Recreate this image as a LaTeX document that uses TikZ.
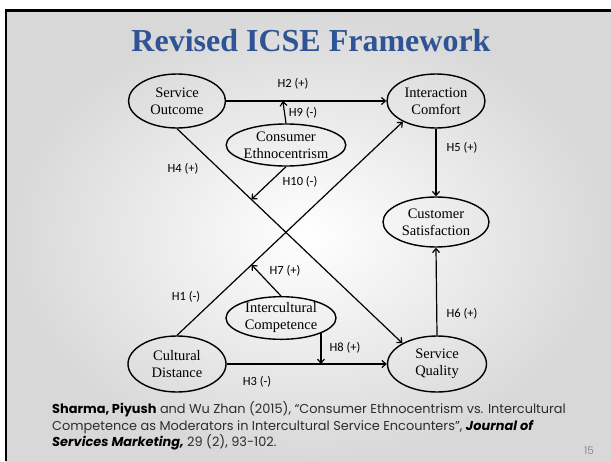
\documentclass[tikz,border=0pt]{standalone}
\usepackage{fontspec}
\setmainfont{Liberation Serif}
\newfontfamily\labelfont{Carlito}
\newfontfamily\notefont{Poppins}
\usetikzlibrary{arrows.meta, shapes.geometric, calc}
\definecolor{titleblue}{RGB}{47, 84, 150}
\definecolor{slidegray}{RGB}{216, 216, 216}
\definecolor{pagegray}{RGB}{140, 140, 140}
\definecolor{notegray}{RGB}{45, 45, 45}

\tikzset{
  construct/.style={ellipse, draw, line width=1.4pt, inner sep=0pt, align=center,
    font=\fontsize{14.5}{17}\selectfont},
  hyp/.style={font=\labelfont\fontsize{12.5}{14}\selectfont},
  link/.style={line width=1.2pt, -{Straight Barb[length=4pt, width=7pt]}}
}

\begin{document}
\begin{tikzpicture}[x=1pt, y=-1pt]
        \useasboundingbox (0,0) rectangle (611,461);

        % Draw the slide background and its frame
        \shade[inner color=white, outer color=slidegray] (6,11) rectangle (611,461);
        \draw[line width=2.5pt] (6,461) -- (6,10.5) -- (611,10.5);

        % Title
        \node[font=\bfseries\fontsize{32}{36}\selectfont, text=titleblue] (title) at (311,41) {Revised ICSE Framework};

        % Draw the constructs as ellipses
        \node[construct, minimum width=97pt, minimum height=54pt] (so) at (177,101) {Service\\Outcome};
        \node[construct, minimum width=98pt, minimum height=54pt] (ic) at (436,101) {Interaction\\Comfort};
        \node[construct, minimum width=118pt, minimum height=42pt] (ce) at (286,145) {Consumer\\Ethnocentrism};
        \node[construct, minimum width=106pt, minimum height=50pt] (cs) at (436,222) {Customer\\Satisfaction};
        \node[construct, minimum width=110pt, minimum height=42pt] (icc) at (281,318) {Intercultural\\Competence};
        \node[construct, minimum width=98pt, minimum height=56pt] (cd) at (177,364) {Cultural\\Distance};
        \node[construct, minimum width=99pt, minimum height=56pt] (sq) at (437,364) {Service\\Quality};

        % Points where the moderators meet the main paths
        \coordinate (m9) at ($(so.east)!0.354!(ic.west)$);
        \coordinate (m10) at ($(so.south)!0.33!(sq.149)$);
        \coordinate (m7) at ($(cd.north)!0.33!(ic.212)$);
        \coordinate (m8) at (icc.-21 |- cd.east);

        % Direct paths
        \draw[link] (so.east) -- (ic.west);
        \draw[link] (so.south) -- (sq.149);
        \draw[link] (cd.north) -- (ic.212);
        \draw[link] (cd.east) -- (sq.west);
        \draw[link] (ic.south) -- (cs.north);
        \draw[link] (sq.north) -- (cs.south);

        % Moderating paths
        \draw[link] (ce.north) -- (m9);
        \draw[link] (ce.south) -- (m10);
        \draw[link] (icc.north) -- (m7);
        \draw[link] (icc.-21) -- (m8);

        % Hypothesis labels
        \node[hyp] (h2) at (293,84) {H2 (+)};
        \node[hyp] (h9) at (303,113) {H9 (-)};
        \node[hyp] (h4) at (183,169) {H4 (+)};
        \node[hyp] (h10) at (300,182) {H10 (-)};
        \node[hyp] (h5) at (462,148) {H5 (+)};
        \node[hyp] (h7) at (285,271) {H7 (+)};
        \node[hyp] (h1) at (186,297) {H1 (-)};
        \node[hyp] (h6) at (462,314) {H6 (+)};
        \node[hyp] (h8) at (345,348) {H8 (+)};
        \node[hyp] (h3) at (257,382) {H3 (-)};

        % Reference and page number
        \node[anchor=north west, align=left, inner sep=0pt, text=notegray, font=\notefont\fontsize{12.9}{16.8}\selectfont] (ref) at (52,401)
          {\textcolor{black}{\textbf{Sharma, Piyush}} and Wu Zhan (2015), “Consumer Ethnocentrism vs. Intercultural\\
           Competence as Moderators in Intercultural Service Encounters”, \textcolor{black}{\textbf{\textit{Journal of}}}\\
           \textcolor{black}{\textbf{\textit{Services Marketing,}}} 29 (2), 93-102.};
        \node[font=\notefont\fontsize{10.5}{12}\selectfont, text=pagegray] (page) at (589,451) {15};
    \end{tikzpicture}
\end{document}
